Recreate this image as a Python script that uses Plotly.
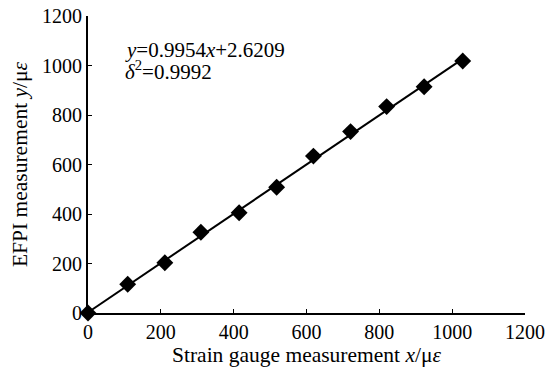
import plotly.graph_objects as go

strain_gauge_x = [0, 109, 211, 310, 415, 518, 619, 721, 820, 923, 1029]
efpi_y = [0, 116, 203, 326, 405, 508, 634, 733, 834, 914, 1018]
fit_slope = 0.9954
fit_intercept = 2.6209
r_squared = 0.9992
tick_vals = [0, 200, 400, 600, 800, 1000, 1200]

font_family = "Liberation Serif, Times New Roman, serif"

fit_x = [min(strain_gauge_x), max(strain_gauge_x)]
fit_y = [fit_slope * v + fit_intercept for v in fit_x]

fig = go.Figure()
fig.add_trace(go.Scatter(x=fit_x, y=fit_y, mode="lines",
                         line=dict(color="black", width=2), showlegend=False))
fig.add_trace(go.Scatter(x=strain_gauge_x, y=efpi_y, mode="markers",
                         marker=dict(symbol="diamond", size=13, color="black"),
                         showlegend=False, cliponaxis=False))

fig.add_annotation(x=96, y=1061, xref="x", yref="y", xanchor="left", yanchor="middle",
                   align="left", showarrow=False,
                   text=f"<i>y</i>={fit_slope}<i>x</i>+{fit_intercept}",
                   font=dict(family=font_family, size=21, color="black"))
fig.add_annotation(x=96, y=978, xref="x", yref="y", xanchor="left", yanchor="middle",
                   align="left", showarrow=False,
                   text=f"<i>δ</i><sup>2</sup>={r_squared}",
                   font=dict(family=font_family, size=21, color="black"))

axis_common = dict(range=[0, 1200], tickvals=tick_vals, showgrid=False, zeroline=False,
                   showline=True, linecolor="black", linewidth=2, automargin=False,
                   ticks="inside", ticklen=4, tickcolor="black", tickwidth=1,
                   tickfont=dict(family=font_family, size=20, color="black"))

fig.update_xaxes(**axis_common,
                 title=dict(text="Strain gauge measurement <i>x</i>/μ<i>ε</i>",
                            font=dict(family=font_family, size=21.5, color="black"),
                            standoff=6))
fig.update_yaxes(**axis_common,
                 title=dict(text="EFPI measurement <i>y</i>/μ<i>ε</i>",
                            font=dict(family=font_family, size=21.5, color="black"),
                            standoff=8))

fig.update_layout(width=548, height=367, margin=dict(l=88, r=23, t=16, b=54),
                  plot_bgcolor="white", paper_bgcolor="white")

fig.write_html("out.html", config={"displayModeBar": False})

# remove the browser's default page margin so the figure sits at the window's corner
with open("out.html", "r", encoding="utf-8") as fh:
    html = fh.read()
html = html.replace("<head>", "<head><style>html,body{margin:0;padding:0;overflow:hidden;}</style>", 1)
with open("out.html", "w", encoding="utf-8") as fh:
    fh.write(html)
